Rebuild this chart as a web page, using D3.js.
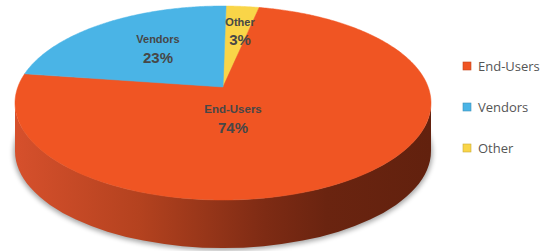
<!DOCTYPE html>
<html>
<head>
<meta charset="utf-8">
<script src="https://cdn.jsdelivr.net/npm/d3@7"></script>
<style>
  html, body { margin: 0; padding: 0; background: #fff; }
  svg { display: block; }
</style>
</head>
<body>
<svg id="chart" width="548" height="251"></svg>
<script>
// ---- data ----
const categories = ["End-Users", "Vendors", "Other"];
const values = [74, 23, 3];
const colors = ["#f05523", "#4ab4e6", "#f9d548"];
const percentLabels = ["74%", "23%", "3%"];
// drawing order around the pie (clockwise from 12 o'clock)
const pieOrder = ["Other", "End-Users", "Vendors"];

// ---- layout ----
const W = 548, H = 251;
const cx = 223, cy = 103;   // centre of the top ellipse
const rx = 208, ry = 97;    // top ellipse radii
const apexShift = -16;      // perspective shift of the pie centre
const depth = 48;
const startOffset = 1 * Math.PI / 180;
const labelLayout = {
  "End-Users": { dx: 10, dy: 26, nameSize: 11.5, pctSize: 15 },
  "Vendors":   { dx: -65, dy: -44, nameSize: 11, pctSize: 15 },
  "Other":     { dx: 17, dy: -61.5, nameSize: 11, pctSize: 15 }
};

const svg = d3.select("#chart");
const defs = svg.append("defs");

// perspective projection of a unit circle onto the ellipse
const k = apexShift / ry;
const A = rx * Math.sqrt(1 - k * k);
function project(theta, r) {
  const x = r * Math.sin(theta), y = -r * Math.cos(theta);
  const w = 1 + k * y;
  return [cx + A * x / w, cy + (ry * y + apexShift) / w];
}

const data = categories.map((c, i) => ({ name: c, value: values[i], color: colors[i], pct: percentLabels[i] }));
const ordered = pieOrder.map(n => data.find(d => d.name === n));

const pie = d3.pie().sort(null).value(d => d.value)
  .startAngle(startOffset).endAngle(startOffset + 2 * Math.PI);
const arcs = pie(ordered);

// shadow
const blur = defs.append("filter").attr("id", "blur")
  .attr("x", "-20%").attr("y", "-20%").attr("width", "140%").attr("height", "140%");
blur.append("feGaussianBlur").attr("stdDeviation", 2.5);

svg.append("ellipse")
  .attr("cx", cx).attr("cy", cy + depth + 1.5)
  .attr("rx", rx + 1.5).attr("ry", ry + 1)
  .attr("fill", "#000").attr("opacity", 0.35)
  .attr("filter", "url(#blur)");

// side gradient
const grad = defs.append("linearGradient").attr("id", "sideGrad")
  .attr("gradientUnits", "userSpaceOnUse")
  .attr("x1", cx - rx).attr("x2", cx + rx).attr("y1", 0).attr("y2", 0);
[[0, "#d6502c"], [0.3, "#b4421f"], [0.6, "#7e2b14"], [0.75, "#6a2410"], [1, "#62210e"]]
  .forEach(([o, c]) => grad.append("stop").attr("offset", o).attr("stop-color", c));

svg.append("path")
  .attr("d", `M${cx - rx},${cy} A${rx},${ry} 0 0 0 ${cx + rx},${cy} L${cx + rx},${cy + depth} A${rx},${ry} 0 0 1 ${cx - rx},${cy + depth} Z`)
  .attr("fill", "url(#sideGrad)");

// top face slices
const line = d3.line();
svg.append("g").selectAll("path").data(arcs).join("path")
  .attr("d", a => {
    const pts = [project(0, 0)];
    const n = Math.max(4, Math.ceil((a.endAngle - a.startAngle) / 0.01));
    for (let i = 0; i <= n; i++) {
      pts.push(project(a.startAngle + (a.endAngle - a.startAngle) * i / n, 1));
    }
    return line(pts) + "Z";
  })
  .attr("fill", a => a.data.color)
  .attr("stroke", a => a.data.color).attr("stroke-width", 0.5);

// slice labels
const apex = project(0, 0);
const lg = svg.append("g").attr("font-family", "Liberation Sans, Arial, Helvetica, sans-serif")
  .attr("font-weight", "bold").attr("fill", "#474747").attr("text-anchor", "middle");
arcs.forEach(a => {
  const L = labelLayout[a.data.name];
  lg.append("text").attr("x", apex[0] + L.dx).attr("y", apex[1] + L.dy)
    .attr("font-size", L.nameSize).text(a.data.name);
  lg.append("text").attr("x", apex[0] + L.dx).attr("y", apex[1] + L.dy + 19.5)
    .attr("font-size", L.pctSize).text(a.data.pct);
});

// legend
const legY = d3.scalePoint().domain(categories).range([66, 148]);
const leg = svg.append("g");
const items = leg.selectAll("g").data(data).join("g")
  .attr("transform", d => `translate(463,${legY(d.name)})`);
items.append("rect").attr("x", 0).attr("y", -4).attr("width", 8).attr("height", 8)
  .attr("fill", d => d.color)
  .attr("stroke", d => d3.color(d.color).darker(0.6)).attr("stroke-width", 0.6);
items.append("text").attr("x", 15).attr("y", 4.5)
  .attr("font-family", "Open Sans, DejaVu Sans, sans-serif").attr("font-size", 13)
  .attr("fill", "#555").text(d => d.name);
</script>
</body>
</html>
